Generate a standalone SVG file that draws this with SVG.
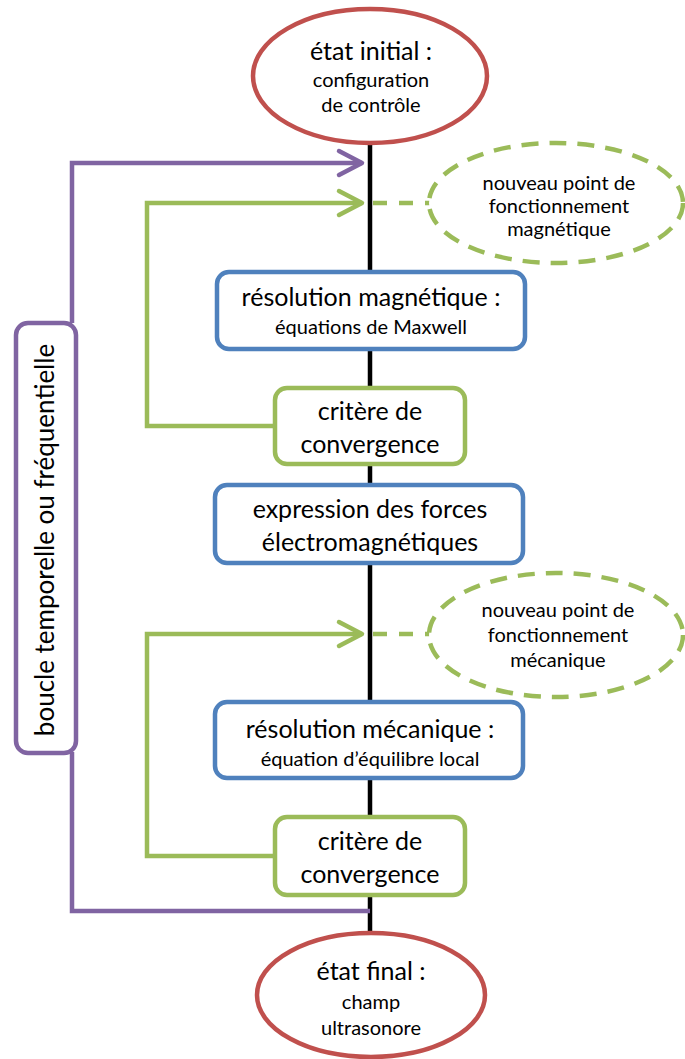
<svg xmlns="http://www.w3.org/2000/svg" width="685" height="1059" viewBox="0 0 685 1059">
<style>
text{font-family:Lato,"Open Sans","Liberation Sans",sans-serif;fill:#000;text-anchor:middle}
.big{font-size:25px}
.mid{font-size:20px}
.sm{font-size:20px}
.red{fill:#fff;stroke:#C0504D;stroke-width:4.5}
.blue{fill:#fff;stroke:#4F81BD;stroke-width:4.5}
.green{fill:#fff;stroke:#9BBB59;stroke-width:4.5}
.purple{fill:#fff;stroke:#8064A2;stroke-width:4.5}
.dash{fill:#fff;stroke:#9BBB59;stroke-width:4.5;stroke-dasharray:17 11}
.pl{fill:none;stroke:#8064A2;stroke-width:4.5}
.gl{fill:none;stroke:#9BBB59;stroke-width:4.5}
.gd{fill:none;stroke:#9BBB59;stroke-width:4.5;stroke-dasharray:14 12}
</style>
<defs>
<marker id="ap" markerUnits="userSpaceOnUse" markerWidth="30" markerHeight="30" refX="26" refY="14" orient="auto" viewBox="0 0 30 30" overflow="visible">
<path d="M3,2 L26,14 L3,26" fill="none" stroke="#8064A2" stroke-width="4.5" stroke-linecap="round" stroke-linejoin="round"/>
</marker>
<marker id="ag" markerUnits="userSpaceOnUse" markerWidth="30" markerHeight="30" refX="26" refY="14" orient="auto" viewBox="0 0 30 30" overflow="visible">
<path d="M3,2 L26,14 L3,26" fill="none" stroke="#9BBB59" stroke-width="4.5" stroke-linecap="round" stroke-linejoin="round"/>
</marker>
</defs>
<g id="connectors">
<line x1="370" y1="140" x2="370" y2="936" stroke="#000" stroke-width="4.5"/>
<polyline class="pl" points="72,323 72,163 362,163" marker-end="url(#ap)"/>
<polyline class="pl" points="72,752 72,911 370,911"/>
<polyline class="gl" points="275,426 147,426 147,203 362,203" marker-end="url(#ag)"/>
<polyline class="gl" points="275,856 147,856 147,634 362,634" marker-end="url(#ag)"/>
<line class="gd" x1="373" y1="203" x2="430" y2="203"/>
<line class="gd" x1="373" y1="634" x2="430" y2="634"/>
</g>
<g id="etat-initial">
<ellipse class="red" cx="370" cy="76" rx="117" ry="67"/>
<text class="big" x="371" y="60">état initial :</text>
<text class="mid" x="371" y="87">configuration</text>
<text class="mid" x="371" y="112">de contrôle</text>
</g>
<g id="point-magnetique">
<ellipse class="dash" cx="556" cy="203" rx="127" ry="60"/>
<text class="sm" x="559" y="190">nouveau point de</text>
<text class="sm" x="559" y="213">fonctionnement</text>
<text class="sm" x="559" y="236">magnétique</text>
</g>
<g id="resolution-magnetique">
<rect class="blue" x="217" y="272" width="308" height="77" rx="12"/>
<text class="big" x="371" y="306">résolution magnétique :</text>
<text class="sm" x="371" y="334">équations de Maxwell</text>
</g>
<g id="critere-1">
<rect class="green" x="275" y="388" width="190" height="76" rx="12"/>
<text class="big" x="370" y="420">critère de</text>
<text class="big" x="370" y="453">convergence</text>
</g>
<g id="expression-forces">
<rect class="blue" x="215" y="485" width="308" height="78" rx="12"/>
<text class="big" x="370" y="518">expression des forces</text>
<text class="big" x="370" y="551">électromagnétiques</text>
</g>
<g id="point-mecanique">
<ellipse class="dash" cx="556" cy="635" rx="127" ry="62"/>
<text class="sm" x="558" y="617">nouveau point de</text>
<text class="sm" x="558" y="642">fonctionnement</text>
<text class="sm" x="558" y="667">mécanique</text>
</g>
<g id="resolution-mecanique">
<rect class="blue" x="215" y="702" width="308" height="76" rx="12"/>
<text class="big" x="370" y="738">résolution mécanique :</text>
<text class="sm" x="370" y="766">équation d’équilibre local</text>
</g>
<g id="critere-2">
<rect class="green" x="275" y="817" width="190" height="78" rx="12"/>
<text class="big" x="370" y="850">critère de</text>
<text class="big" x="370" y="883">convergence</text>
</g>
<g id="etat-final">
<ellipse class="red" cx="371" cy="995" rx="114" ry="62"/>
<text class="big" x="371" y="980">état final :</text>
<text class="mid" x="371" y="1009">champ</text>
<text class="mid" x="371" y="1035">ultrasonore</text>
</g>
<g id="boucle">
<rect class="purple" x="16" y="323" width="60" height="430" rx="12"/>
<text class="big" transform="translate(54 540) rotate(-90)" x="0" y="0" style="font-size:26px">boucle temporelle ou fréquentielle</text>
</g>
</svg>
